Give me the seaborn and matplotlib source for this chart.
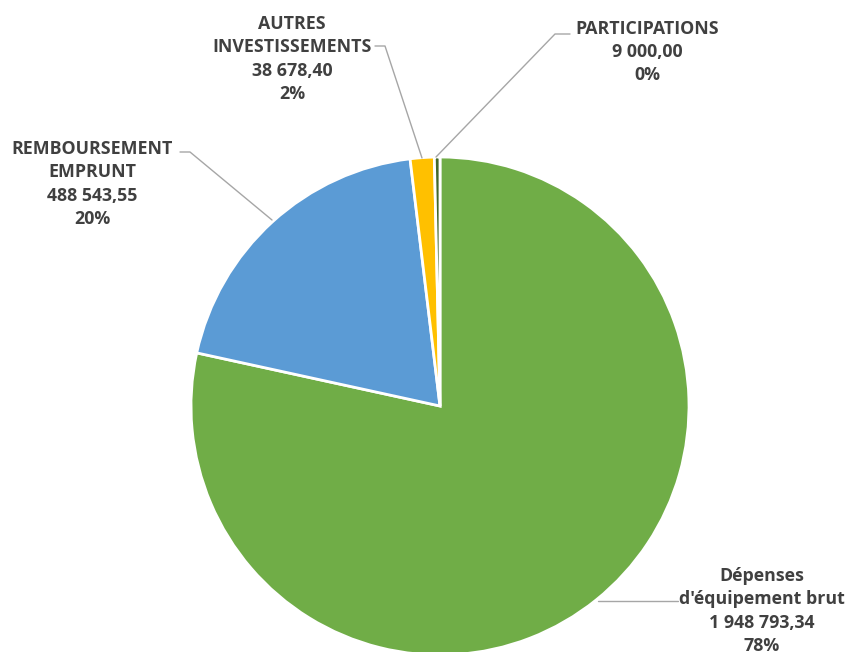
import seaborn as sns
import matplotlib.pyplot as plt

categories = ["Dépenses\nd'équipement brut", "REMBOURSEMENT\nEMPRUNT",
              "AUTRES\nINVESTISSEMENTS", "PARTICIPATIONS"]
values = [1948793.34, 488543.55, 38678.40, 9000.00]
value_labels = ["1 948 793,34", "488 543,55", "38 678,40", "9 000,00"]
colors = ["#70AD47", "#5B9BD5", "#FFC000", "#43682B"]

sns.set_style("white")
plt.rcParams['font.family'] = ['Open Sans', 'DejaVu Sans']

fig = plt.figure(figsize=(8.51, 6.52), dpi=100)
ax = fig.add_axes([0, 0, 1, 1])
H = 652

ax.pie(values, colors=colors, startangle=90, counterclock=False,
       center=(440, H - 406), radius=249,
       wedgeprops=dict(edgecolor='white', linewidth=2))
ax.set_xlim(0, 851)
ax.set_ylim(0, H)
ax.set_aspect('equal')
ax.axis('off')

total = sum(values)
# label block centers (pixel coords) and leader lines
label_pos = [(762, 611), (92, 184), (292, 59), (647, 52)]
leaders = [[(598, 601), (678, 601)],
           [(272, 220), (190, 152), (180, 152)],
           [(422, 158), (385, 46), (375, 46)],
           [(436, 157), (555, 34), (570, 34)]]

for cat, v, vl, (x, y), pts in zip(categories, values, value_labels, label_pos, leaders):
    pct = f"{round(v / total * 100):.0f}%"
    ax.text(x, H - y, f"{cat}\n{vl}\n{pct}", ha='center', va='center',
            fontsize=12.8, fontweight='bold', color='#404040', linespacing=1.38)
    ax.plot([p[0] for p in pts], [H - p[1] for p in pts], color='#A6A6A6', lw=1)

fig.savefig('out.png', dpi=100)
